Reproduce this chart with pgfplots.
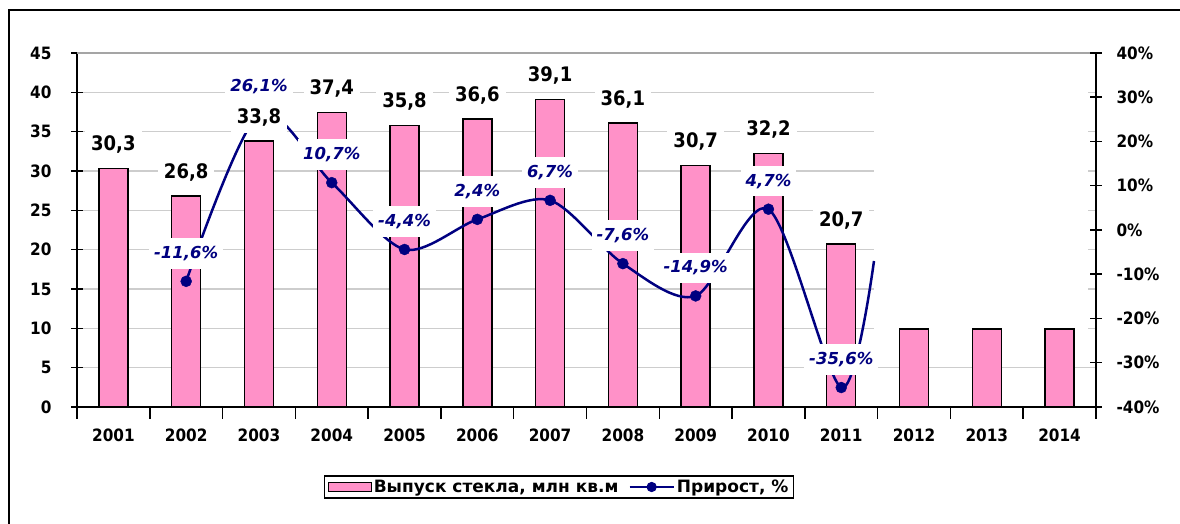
\documentclass[border=0pt]{standalone}
\usepackage{pgfplots}
\pgfplotsset{compat=1.18}
\usepackage{pgfplotstable}
\usepackage{fontspec}
\setmainfont{DejaVu Sans Condensed}
\newfontfamily\widefont{DejaVu Sans}
\definecolor{barpink}{RGB}{255,145,200}
\definecolor{navy}{RGB}{0,0,128}
\definecolor{gridgray}{RGB}{205,205,205}
\definecolor{topgray}{RGB}{165,165,165}

\pgfplotstableread{
x v
0 30.3
1 26.8
2 33.8
3 37.4
4 35.8
5 36.6
6 39.1
7 36.1
8 30.7
9 32.2
10 20.7
11 9.9
12 9.9
13 9.9
}\bardata

\pgfplotstableread{
x v
0 30.3
1 26.8
2 33.8
3 37.4
4 35.8
5 36.6
6 39.1
7 36.1
8 30.7
9 32.2
10 20.7
}\barlabels

\pgfplotstableread{
x g
1 -11.6
2 26.1
3 10.7
4 -4.4
5 2.4
6 6.7
7 -7.6
8 -14.9
9 4.7
10 -35.6
}\growth

\pgfplotstableread{
x g
1 -11.6
2 26.1
3 10.7
4 -4.4
5 2.4
6 6.7
7 -7.6
8 -14.9
9 4.7
10 -35.6
10.45 -7.0
}\growthcurve

\pgfplotsset{
  base/.style={
    scale only axis, width=1019pt, height=354pt,
    at={(77pt,117pt)}, anchor=south west,
    xmin=-0.5, xmax=13.5, enlargelimits=false,
    /pgf/number format/assume math mode=true,
    /pgf/number format/use comma,
    ticklabel style={font=\bfseries\fontsize{17}{19}\selectfont},
    tick align=center,
    major tick length=12pt,
    tick style={black, line width=1.5pt},
    axis line style={black, line width=1.5pt},
  }
}

\begin{document}
\begin{tikzpicture}[x=1pt,y=1pt]
\useasboundingbox (0,0) rectangle (1180,524);
\draw[black, line width=1.5pt] (9,0) -- (9,514) -- (1182,514);

% bars
\begin{axis}[base, ymin=0, ymax=45, ytick={0,5,...,45},
  axis x line*=bottom, axis y line*=left,
  ymajorgrids, grid style={gridgray, line width=1.3pt},
  xtick={-0.5,0.5,...,13.5}, x tick label as interval,
  xticklabels={2001,2002,2003,2004,2005,2006,2007,2008,2009,2010,2011,2012,2013,2014},
  xticklabel style={yshift=-6pt},
  yticklabel style={xshift=-16pt},
  ybar, bar width=29pt]
\fill[white] (axis cs:10.45,9.6) rectangle (axis cs:13.39,44.6);
\addplot[fill=barpink, draw=black, line width=1.4pt] table[x=x,y=v]{\bardata};
\draw[topgray, line width=1.8pt] (rel axis cs:0,1) -- (rel axis cs:1,1);
\end{axis}

% growth line
\begin{axis}[base, ymin=-40, ymax=40, ytick={-40,-30,...,40},
  axis y line*=right, hide x axis,
  yticklabel={\pgfmathprintnumber{\tick}\%},
  yticklabel style={xshift=11pt}]
\addplot[navy, line width=2.5pt, smooth, mark=none] table[x=x,y=g]{\growthcurve};
\addplot[only marks, mark=*, mark size=5.5pt, mark options={navy, fill=navy},
  nodes near coords={\pgfmathprintnumber[fixed,fixed zerofill,precision=1]{\pgfplotspointmeta}\%},
  every node near coord/.style={anchor=center, yshift=28pt, fill=white, text=navy,
    font=\widefont\bfseries\itshape\fontsize{16.5}{18}\selectfont, inner xsep=5pt, inner ysep=8pt}]
  table[x=x,y=g]{\growth};
\end{axis}

% bar labels + legend
\begin{axis}[base, ymin=0, ymax=45, hide axis, clip=false,
  legend style={at={(0.473,-0.226)}, anchor=center, draw=black, line width=1.2pt,
    font=\widefont\bfseries\fontsize{17}{19}\selectfont, legend columns=2,
    /tikz/every even column/.append style={column sep=8pt},
    inner xsep=3pt, inner ysep=2pt}]
\addplot[draw=none, mark=none, forget plot,
  nodes near coords={\pgfmathprintnumber[fixed,fixed zerofill,precision=1]{\pgfplotspointmeta}},
  every node near coord/.style={anchor=center, yshift=24pt, fill=white, text=black,
    font=\bfseries\fontsize{20}{22}\selectfont, inner xsep=6pt, inner ysep=7pt}]
  table[x=x,y=v]{\barlabels};
\addlegendimage{legend image code/.code={\draw[fill=barpink, draw=black, line width=1.2pt] (0pt,-4.5pt) rectangle (43pt,4.5pt);}}
\addlegendentry{Выпуск стекла, млн кв.м}
\addlegendimage{legend image code/.code={\draw[navy, line width=2.5pt] (0pt,0pt) -- (44pt,0pt); \fill[navy] (22pt,0pt) circle (4.5pt);}}
\addlegendentry{Прирост, \%}
\end{axis}
\end{tikzpicture}
\end{document}
